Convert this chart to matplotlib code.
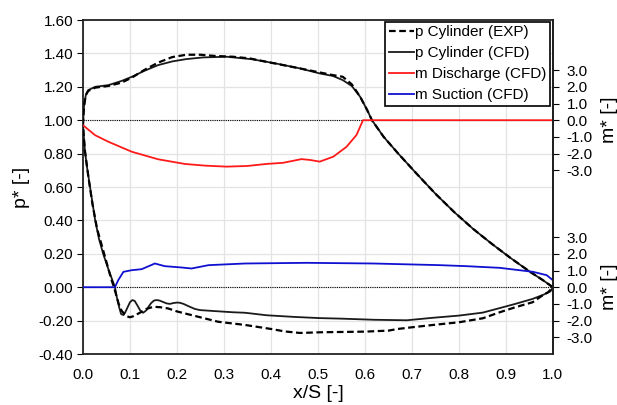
import numpy as np
import matplotlib
matplotlib.use('Agg')
import matplotlib.pyplot as plt

plt.rcParams['font.family'] = ['Liberation Sans', 'DejaVu Sans']

#--------------------------------------------------#
# p Cylinder (CFD), closed loop, x/S and p*
cfd_x = [0.0, 0.002, 0.006, 0.011, 0.026, 0.054, 0.082, 0.104, 0.13, 0.16, 0.19, 0.22, 0.256, 0.306,
         0.36, 0.41, 0.462, 0.504, 0.532, 0.553, 0.572, 0.59, 0.605, 0.615, 0.64, 0.671, 0.71, 0.75,
         0.79, 0.83, 0.87, 0.91, 0.95, 0.98, 1.0,
         0.995, 0.98, 0.957, 0.92, 0.887, 0.851, 0.8, 0.745, 0.689, 0.62, 0.547, 0.504, 0.45, 0.391,
         0.345, 0.319, 0.28, 0.249, 0.238, 0.228, 0.214, 0.206, 0.2, 0.192, 0.185, 0.178, 0.17, 0.163,
         0.157, 0.151, 0.145, 0.14, 0.135, 0.128, 0.122, 0.116, 0.11, 0.105, 0.1, 0.095, 0.09, 0.086,
         0.081, 0.077, 0.072, 0.068,
         0.055, 0.043, 0.034, 0.026, 0.015, 0.008, 0.004, 0.0]
cfd_p = [0.97, 1.08, 1.15, 1.18, 1.20, 1.21, 1.235, 1.26, 1.295, 1.33, 1.352, 1.366, 1.376, 1.38,
         1.365, 1.34, 1.31, 1.28, 1.265, 1.24, 1.205, 1.14, 1.06, 1.0, 0.9, 0.8, 0.68, 0.56,
         0.45, 0.35, 0.26, 0.175, 0.095, 0.04, 0.0,
         -0.025, -0.045, -0.07, -0.1, -0.125, -0.152, -0.17, -0.183, -0.198, -0.195, -0.188, -0.185, -0.178, -0.168,
         -0.153, -0.15, -0.143, -0.137, -0.13, -0.118, -0.1, -0.093, -0.092, -0.095, -0.1, -0.097, -0.088, -0.08,
         -0.077, -0.08, -0.095, -0.115, -0.138, -0.153, -0.14, -0.11, -0.082, -0.077, -0.09, -0.12, -0.15, -0.167,
         -0.16, -0.12, -0.06, 0.0,
         0.1, 0.2, 0.29, 0.4, 0.6, 0.73, 0.82, 0.97]

# p Cylinder (EXP)
exp_x = [0.0, 0.002, 0.006, 0.011, 0.026, 0.054, 0.082, 0.104, 0.13, 0.16, 0.19, 0.22, 0.25, 0.28,
         0.32, 0.355, 0.39, 0.426, 0.462, 0.497, 0.532, 0.553, 0.572, 0.59, 0.605, 0.615, 0.64, 0.671,
         0.71, 0.75, 0.79, 0.83, 0.87, 0.91, 0.95, 0.98, 1.0,
         0.99, 0.98, 0.957, 0.92, 0.887, 0.851, 0.8, 0.745, 0.7, 0.67, 0.65, 0.6, 0.55, 0.504, 0.462,
         0.43, 0.4, 0.345, 0.288, 0.231, 0.2, 0.181, 0.165, 0.15, 0.135, 0.125, 0.113, 0.106, 0.1,
         0.094, 0.088, 0.082, 0.076, 0.07, 0.066, 0.06, 0.05, 0.04, 0.03, 0.02, 0.012, 0.004, 0.0]
exp_p = [0.97, 1.08, 1.15, 1.175, 1.195, 1.205, 1.225, 1.255, 1.30, 1.345, 1.378, 1.392, 1.392, 1.385,
         1.38, 1.37, 1.35, 1.33, 1.31, 1.29, 1.27, 1.26, 1.215, 1.14, 1.06, 1.0, 0.9, 0.8,
         0.68, 0.56, 0.45, 0.35, 0.26, 0.175, 0.095, 0.04, 0.0,
         -0.03, -0.045, -0.09, -0.12, -0.15, -0.186, -0.21, -0.226, -0.24, -0.25, -0.26, -0.266, -0.268, -0.27, -0.274,
         -0.265, -0.25, -0.226, -0.207, -0.167, -0.145, -0.127, -0.12, -0.117, -0.13, -0.147, -0.165, -0.175, -0.18,
         -0.175, -0.16, -0.14, -0.1, -0.04, 0.0, 0.05, 0.15, 0.25, 0.35, 0.5, 0.65, 0.82, 0.97]

# m Discharge (CFD), m* [-]
dis_x = [0.0, 0.026, 0.054, 0.104, 0.16, 0.217, 0.26, 0.306, 0.35, 0.39, 0.426, 0.465, 0.483, 0.504,
         0.533, 0.561, 0.582, 0.596, 1.0]
dis_m = [-0.3, -0.9, -1.29, -1.89, -2.34, -2.62, -2.72, -2.78, -2.74, -2.62, -2.55, -2.33, -2.38, -2.48,
         -2.18, -1.59, -0.89, 0.0, 0.0]

# m Suction (CFD), m* [-]
suc_x = [0.0, 0.068, 0.075, 0.086, 0.104, 0.125, 0.153, 0.174, 0.21, 0.231, 0.267, 0.345, 0.476, 0.618,
         0.76, 0.816, 0.887, 0.958, 0.987, 1.0]
suc_m = [0.0, 0.0, 0.42, 0.92, 1.02, 1.08, 1.42, 1.26, 1.18, 1.12, 1.32, 1.42, 1.46, 1.42,
         1.32, 1.26, 1.16, 0.92, 0.72, 0.42]

xticks = np.arange(0.0, 1.01, 0.1)
pticks = np.arange(-0.4, 1.61, 0.2)
mticks = [3.0, 2.0, 1.0, 0.0, -1.0, -2.0, -3.0]
#--------------------------------------------------#

fig = plt.figure(figsize=(6.17, 4.05), dpi=100)
ax = fig.add_axes([0.1345, 0.1259, 0.7615, 0.8247])

ax.grid(True, color='#e3e3e3', linewidth=0.9)
ax.set_axisbelow(True)
ax.axhline(1.0, color='black', linestyle=(0, (1, 1)), linewidth=0.8, zorder=2)
ax.axhline(0.0, color='black', linestyle=(0, (1, 1)), linewidth=0.8, zorder=2)

l_exp, = ax.plot(exp_x, exp_p, color='black', linestyle=(0, (3, 1.6)), linewidth=1.6, label='p Cylinder (EXP)', zorder=4)
l_cfd, = ax.plot(cfd_x, cfd_p, color='#1a1a1a', linewidth=1.3, label='p Cylinder (CFD)', zorder=3)

ax.set_xlim(0, 1)
ax.set_ylim(-0.4, 1.6)
ax.set_xticks(xticks)
ax.set_xticklabels(['%.1f' % v for v in xticks])
ax.set_yticks(pticks)
ax.set_yticklabels(['%.2f' % v for v in pticks])
ax.tick_params(axis='y', direction='out', length=4, labelsize=11, pad=3)
ax.tick_params(axis='x', length=0, labelsize=11, pad=10)
ax.set_xlabel('x/S [-]', fontsize=14, labelpad=2)
ax.set_ylabel('p* [-]', fontsize=14, labelpad=6)
for s in ax.spines.values():
    s.set_linewidth(1.3)
    s.set_color('#222222')

# upper m* axis: m*=0 at p*=1
ax_up = ax.twinx()
ax_up.set_ylim(-14, 6)
l_dis, = ax_up.plot(dis_x, dis_m, color='#ff1a1a', linewidth=1.3, label='m Discharge (CFD)')

# lower m* axis: m*=0 at p*=0
ax_lo = ax.twinx()
ax_lo.set_ylim(-4, 16)
l_suc, = ax_lo.plot(suc_x, suc_m, color='#1010d0', linewidth=1.3, label='m Suction (CFD)')

for a, yc in [(ax_up, 0.70), (ax_lo, 0.20)]:
    a.set_yticks(mticks)
    a.set_yticklabels(['%.1f' % v for v in mticks])
    a.tick_params(axis='y', direction='out', length=4, labelsize=11, pad=6)
    a.set_ylabel('m* [-]', fontsize=14)
    a.yaxis.set_label_coords(1.102, yc)
    for k in ['top', 'bottom', 'left']:
        a.spines[k].set_visible(False)
    a.spines['right'].set_linewidth(1.3)
    a.spines['right'].set_color('#222222')

leg = ax_lo.legend(handles=[l_exp, l_cfd, l_dis, l_suc], loc='upper right', bbox_to_anchor=(0.995, 0.995),
                   fontsize=11, fancybox=False, framealpha=1, edgecolor='black', borderaxespad=0,
                   handlelength=1.6, handletextpad=0.1, labelspacing=0.45, borderpad=0.25)
leg.get_frame().set_linewidth(1.2)

fig.savefig('out.png', dpi=100)
